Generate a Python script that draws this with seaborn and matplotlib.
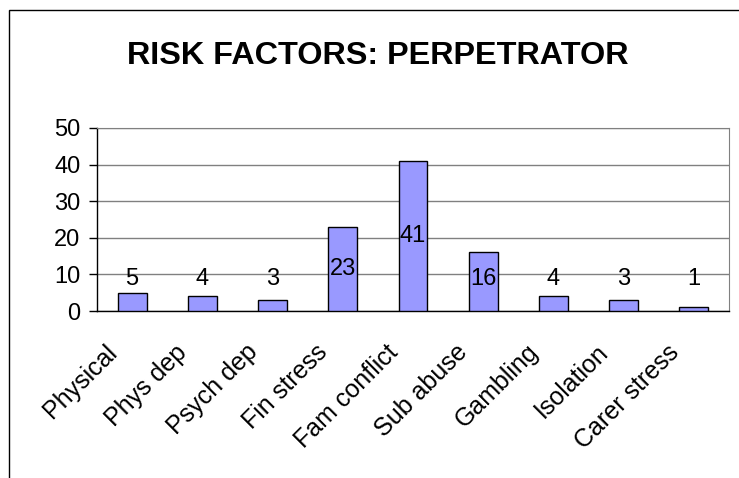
import numpy as np
import pandas as pd
import matplotlib
matplotlib.use("Agg")
import matplotlib.pyplot as plt
import matplotlib.transforms as mtransforms
import seaborn as sns
from matplotlib.patches import Rectangle

# data
categorias = ['Physical', 'Phys dep', 'Psych dep', 'Fin stress', 'Fam conflict',
              'Sub abuse', 'Gambling', 'Isolation', 'Carer stress']
valores = [5, 4, 3, 23, 41, 16, 4, 3, 1]
y_ticks = [0, 10, 20, 30, 40, 50]

df = pd.DataFrame({'categoria': categorias, 'valor': valores})

sns.set_style('white')
plt.rcParams['font.family'] = ['Liberation Sans', 'DejaVu Sans']
plt.rcParams['text.color'] = 'black'
plt.rcParams['xtick.color'] = 'black'
plt.rcParams['ytick.color'] = 'black'
plt.rcParams['xtick.labelcolor'] = 'black'
plt.rcParams['ytick.labelcolor'] = 'black'

fig = plt.figure(figsize=(7.39, 4.78), dpi=100)
ax = fig.add_axes([97 / 739, 1 - 311 / 478, (729 - 97) / 739, (311 - 128) / 478])

sns.barplot(data=df, x='categoria', y='valor', color='#9999FF',
            edgecolor='black', linewidth=1, width=0.41, saturation=1, ax=ax, zorder=3)

ax.set_ylim(0, 50)
ax.set_xlim(-0.5, len(categorias) - 0.5)
ax.set_yticks(y_ticks)
ax.set_yticklabels([str(t) for t in y_ticks], fontsize=17)
ax.yaxis.grid(True, color='#808080', linewidth=1, zorder=0)
ax.set_axisbelow(True)

# category labels, boundary ticks
ax.set_xticks(range(len(categorias)))
ax.set_xticklabels(categorias, rotation=45, ha='right', va='center',
                   rotation_mode='anchor', fontsize=18)
ax.tick_params(axis='x', which='major', length=0, pad=27)
desloc = mtransforms.ScaledTranslation(-19 / 100, 0, fig.dpi_scale_trans)
for lbl in ax.get_xticklabels():
    lbl.set_transform(lbl.get_transform() + desloc)
ax.set_xticks(np.arange(-0.5, len(categorias), 1), minor=True)
ax.tick_params(axis='x', which='minor', length=6, direction='out', color='black', width=1)
ax.tick_params(axis='y', length=6, direction='out', color='black', width=1, left=True, pad=6)

ax.set_xlabel('')
ax.set_ylabel('')

for s in ['left', 'bottom']:
    ax.spines[s].set_color('black')
    ax.spines[s].set_linewidth(1)
ax.spines['right'].set_color('#808080')
ax.spines['top'].set_color('#808080')

# value labels
for i, v in enumerate(valores):
    y = max(v / 2, 8.7)
    ax.text(i, y, str(v), ha='center', va='center', fontsize=17, zorder=5)

fig.text(378 / 739, 1 - 56 / 478, 'RISK FACTORS: PERPETRATOR', ha='center', va='center',
         fontsize=23.3, fontweight='bold')

# chart border
fig.patches.append(Rectangle((9 / 739, -0.1), 1.2, 1 - 10 / 478 + 0.1,
                             transform=fig.transFigure, fill=False,
                             edgecolor='black', linewidth=1))

fig.savefig('out.png', dpi=100, facecolor='white')
plt.close()
